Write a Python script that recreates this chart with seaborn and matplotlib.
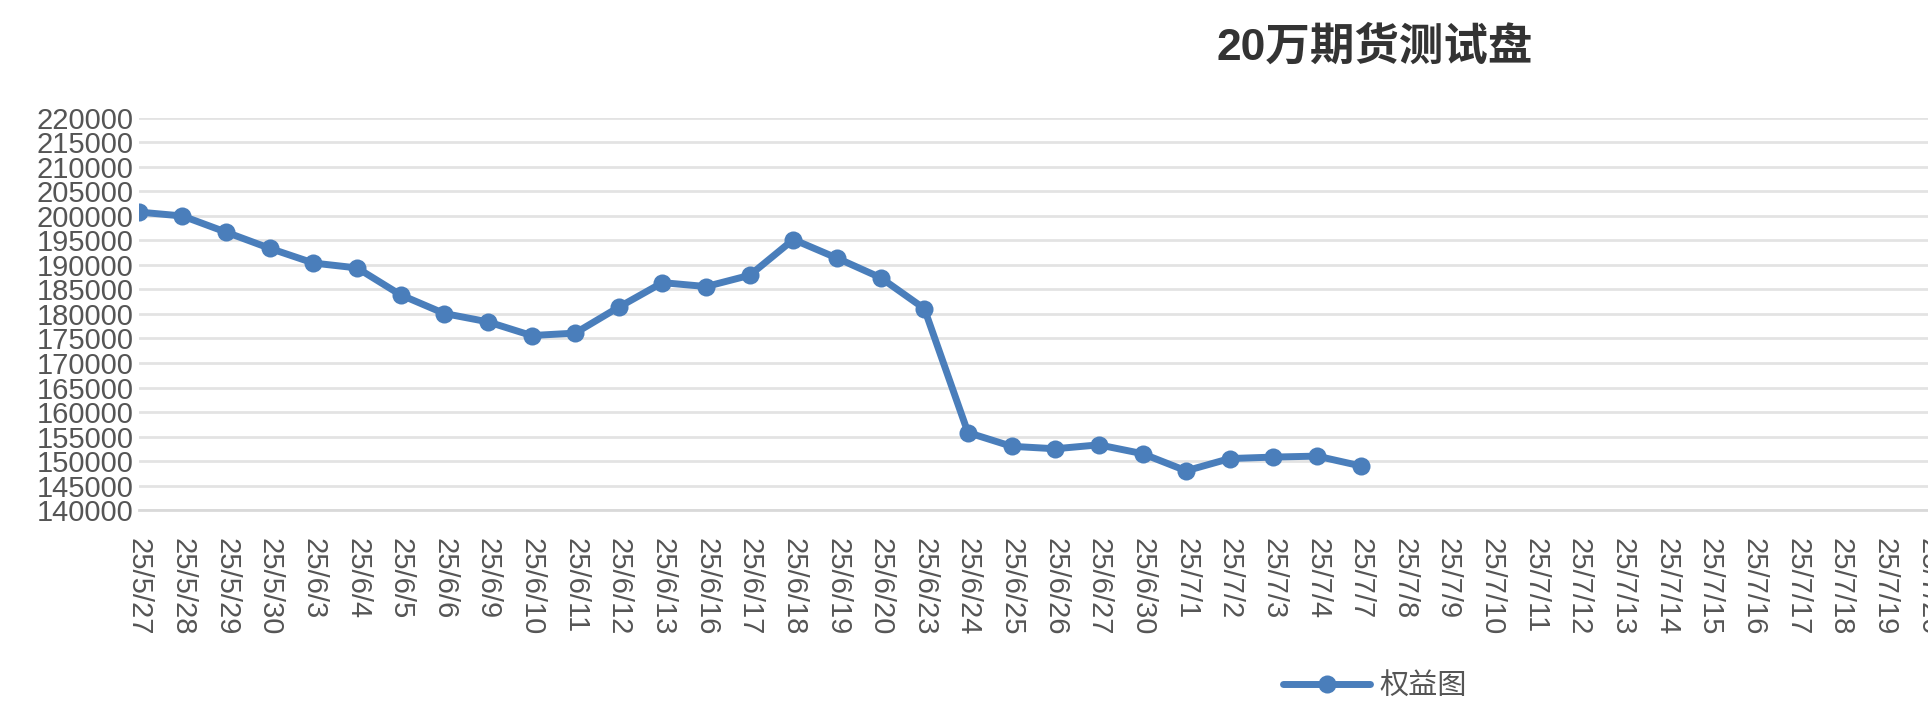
import matplotlib
matplotlib.use("Agg")
import matplotlib.pyplot as plt
import seaborn as sns
import pandas as pd

dates = ["25/5/27","25/5/28","25/5/29","25/5/30","25/6/3","25/6/4","25/6/5","25/6/6","25/6/9","25/6/10",
         "25/6/11","25/6/12","25/6/13","25/6/16","25/6/17","25/6/18","25/6/19","25/6/20","25/6/23","25/6/24",
         "25/6/25","25/6/26","25/6/27","25/6/30","25/7/1","25/7/2","25/7/3","25/7/4","25/7/7","25/7/8",
         "25/7/9","25/7/10","25/7/11","25/7/12","25/7/13","25/7/14","25/7/15","25/7/16","25/7/17","25/7/18",
         "25/7/19","25/7/20"]
equity = [200800, 200000, 196700, 193400, 190400, 189400, 183900, 180100, 178400, 175600,
          176100, 181400, 186400, 185600, 187900, 195200, 191400, 187400, 181100, 155800,
          153000, 152500, 153300, 151500, 148000, 150500, 150800, 151000, 149000]
yticks = list(range(140000, 220001, 5000))

sns.set_theme(style="white")
plt.rcParams['font.family'] = ['Liberation Sans', 'Noto Sans CJK SC', 'DejaVu Sans']

df = pd.DataFrame({"x": range(len(equity)), "y": equity})
fig = plt.figure(figsize=(19.28, 7.26), dpi=100)
ax = fig.add_axes([0.072, 0.2975, 0.928, 0.54])
sns.lineplot(data=df, x="x", y="y", ax=ax, color="#4a7ebb", lw=5, marker="o",
             markersize=13, markeredgewidth=0, label="权益图")
ax.set_xlim(0, 40.9)
ax.set_ylim(140000, 220000)
ax.set_yticks(yticks)
ax.set_yticklabels([str(v) for v in yticks], fontsize=21, color="#555555")
ax.set_xticks(range(len(dates)))
ax.set_xticklabels(dates, rotation=270, fontsize=21, color="#555555", va="top", ha="center")
ax.tick_params(axis="x", length=12, width=1.5, color="#d9d9d9", direction="out", pad=8)
ax.tick_params(axis="y", length=0, pad=4)
ax.grid(axis="y", color="#e3e3e3", lw=2)
for s in ["top", "right", "left"]:
    ax.spines[s].set_visible(False)
ax.spines["bottom"].set_color("#d9d9d9")
ax.spines["bottom"].set_linewidth(2)
ax.set_xlabel("")
ax.set_ylabel("")
fig.text(0.713, 0.935, "20万期货测试盘", fontsize=32, fontweight="bold", color="#333333",
         ha="center", va="center")
leg = ax.legend(loc="center", bbox_to_anchor=(0.713, 0.055), bbox_transform=fig.transFigure,
                frameon=False, fontsize=21, handlelength=3, handletextpad=0.3)
for t in leg.get_texts():
    t.set_color("#555555")
fig.savefig("out.png", dpi=100)
